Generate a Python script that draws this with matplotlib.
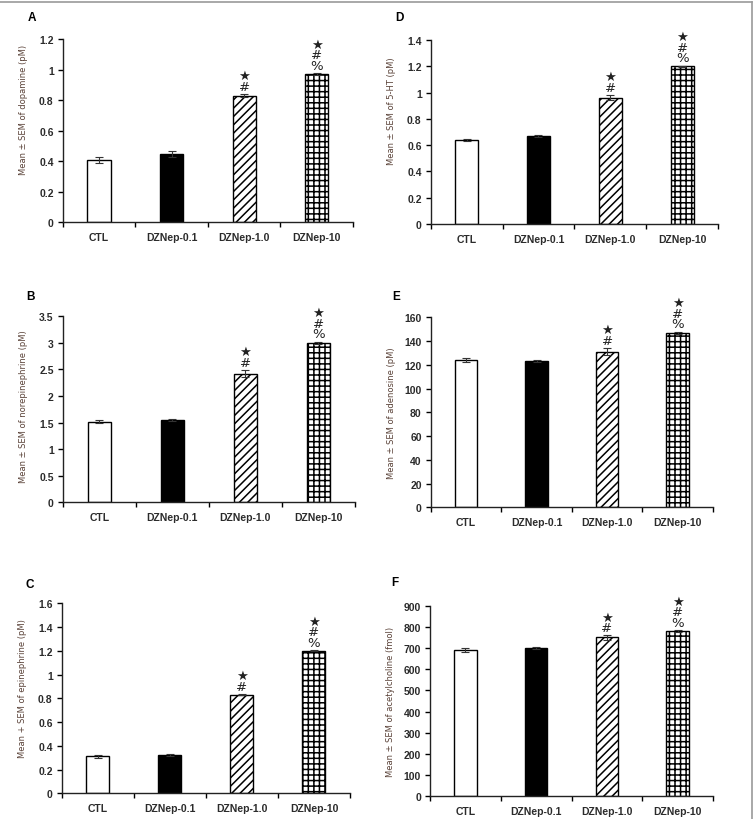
import matplotlib
matplotlib.use("Agg")
import matplotlib.pyplot as plt
from matplotlib.lines import Line2D

categories = ["CTL", "DZNep-0.1", "DZNep-1.0", "DZNep-10"]

dopamine = [0.41, 0.45, 0.83, 0.97]
dopamine_err = [0.02, 0.02, 0.01, 0.008]
serotonin = [0.64, 0.67, 0.96, 1.20]
serotonin_err = [0.01, 0.01, 0.02, 0.005]
norepinephrine = [1.52, 1.55, 2.42, 3.00]
norepinephrine_err = [0.02, 0.02, 0.07, 0.02]
adenosine = [124, 123, 131, 147]
adenosine_err = [1.5, 1.0, 3.0, 0.8]
epinephrine = [0.31, 0.32, 0.83, 1.20]
epinephrine_err = [0.01, 0.01, 0.006, 0.005]
acetylcholine = [690, 700, 750, 780]
acetylcholine_err = [10, 3, 10, 4]

marks = ["", "", "★\n#", "★\n#\n%"]

panels = [
    ("A", dopamine, dopamine_err, "Mean ± SEM of dopamine (pM)", 1.2, 0.2,
     ["0", "0.2", "0.4", "0.6", "0.8", "1", "1.2"], (62.7, 40, 353, 223.3), 110, (28, 18)),
    ("D", serotonin, serotonin_err, "Mean ± SEM of 5-HT (pM)", 1.4, 0.2,
     ["0", "0.2", "0.4", "0.6", "0.8", "1", "1.2", "1.4"], (430.7, 41, 718, 225), 111, (395, 18)),
    ("B", norepinephrine, norepinephrine_err, "Mean ± SEM of norepinephrine (pM)", 3.5, 0.5,
     ["0", "0.5", "1", "1.5", "2", "2.5", "3", "3.5"], (62.7, 317.3, 355, 503.3), 407, (26, 297)),
    ("E", adenosine, adenosine_err, "Mean ± SEM of adenosine (pM)", 160, 20,
     ["0", "20", "40", "60", "80", "100", "120", "140", "160"], (430.7, 318.3, 713, 508.3), 413, (392, 297)),
    ("C", epinephrine, epinephrine_err, "Mean + SEM of epinephrine (pM)", 1.6, 0.2,
     ["0", "0.2", "0.4", "0.6", "0.8", "1", "1.2", "1.4", "1.6"], (61.7, 604.3, 350, 794.3), 689, (26, 585)),
    ("F", acetylcholine, acetylcholine_err, "Mean ± SEM of acetylcholine (fmol)", 900, 100,
     ["0", "100", "200", "300", "400", "500", "600", "700", "800", "900"], (430, 606.7, 713, 797.3), 702, (391, 583)),
]

W, H = 755, 820
fig = plt.figure(figsize=(W / 100, H / 100), dpi=100)
plt.rcParams["hatch.linewidth"] = 1.1

face = ["white", "black", "white", "white"]
hatches = [None, None, "////", "+++"]
text_col = "#2b2b2b"
font = "Liberation Sans"

for letter, vals, errs, ylabel, ymax, ystep, ytl, (l, t, r, b), lab_y, (lx, ly) in panels:
    ax = fig.add_axes([l / W, 1 - b / H, (r - l) / W, (b - t) / H])
    xs = [i + 0.5 for i in range(len(categories))]
    for i, (x, v) in enumerate(zip(xs, vals)):
        ax.bar(x, v, width=0.32, color=face[i], edgecolor="black",
               linewidth=1.0, hatch=hatches[i], zorder=2)
    ax.errorbar(xs, vals, yerr=errs, fmt="none", ecolor="#333333",
                elinewidth=0.8, capsize=3, capthick=0.8, zorder=3)
    ax.set_xlim(0, 4)
    ax.set_ylim(0, ymax)
    ax.set_xticks(range(5))
    ax.set_xticklabels([])
    ax.set_xticks(xs, minor=True)
    ax.set_xticklabels(categories, minor=True, fontsize=7.5, fontweight="bold",
                       family=font, color=text_col)
    ax.tick_params(axis="x", which="minor", length=0, pad=7)
    ax.tick_params(axis="x", which="major", length=3.5, width=1, direction="out")
    yt = [i * ystep for i in range(len(ytl))]
    ax.set_yticks(yt)
    ax.set_yticklabels(ytl, fontsize=7.5, fontweight="bold", family=font, color=text_col)
    ax.tick_params(axis="y", length=3.5, width=1, direction="out", pad=3)
    for s in ("top", "right"):
        ax.spines[s].set_visible(False)
    for s in ("left", "bottom"):
        ax.spines[s].set_linewidth(1.0)
        ax.spines[s].set_color("#222222")
    ax.set_ylabel(ylabel, fontsize=6, family="DejaVu Sans", color="#5a4238")
    ax.yaxis.set_label_coords(-35 / (r - l), (b - lab_y) / (b - t))

    for x, v, e, m in zip(xs, vals, errs, marks):
        if not m:
            continue
        ax.annotate(m, (x, v + e), xytext=(0, 1), textcoords="offset points",
                    ha="center", va="bottom", fontsize=9.5, linespacing=0.75,
                    multialignment="center", family=["DejaVu Sans"], color="#222222")

    fig.text(lx / W, 1 - ly / H, letter, fontsize=8.5, fontweight="bold",
             family=font, color="black", ha="left", va="center")

fig.add_artist(Line2D([0, 752 / W], [1 - 3 / H, 1 - 3 / H], color="#9a9a9a", lw=1.2))
fig.add_artist(Line2D([752 / W, 752 / W], [0, 1 - 3 / H], color="#9a9a9a", lw=1.2))

fig.savefig("out.png", dpi=100)
